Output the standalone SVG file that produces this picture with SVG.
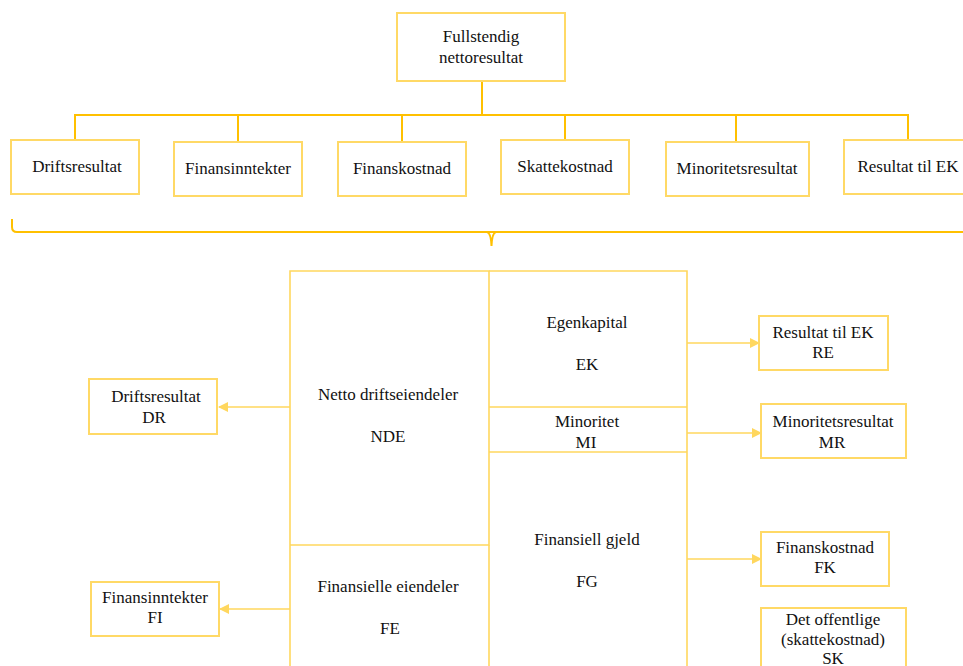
<svg xmlns="http://www.w3.org/2000/svg" width="963" height="666" viewBox="0 0 963 666">
  <defs>
    <style>
      .box { fill: #ffffff; stroke: #FFD966; stroke-width: 2; }
      .cell { fill: none; stroke: #FFD75E; stroke-width: 1.6; }
      .tree { fill: none; stroke: #FFC000; stroke-width: 2; }
      .flow { fill: none; stroke: #FFD75E; stroke-width: 1.6; }
      text { font-family: "Liberation Serif", "Times New Roman", serif; font-size: 17px; fill: #111111; text-anchor: middle; }
    </style>
    <marker id="arr" viewBox="0 0 10 10" refX="9" refY="5" markerWidth="10" markerHeight="10" markerUnits="userSpaceOnUse" orient="auto">
      <path d="M0,0 L10,5 L0,10 z" fill="#FFD75E"/>
    </marker>
  </defs>

  <!-- tree connectors and brace -->
  <g id="connectors">
    <path class="tree" d="M482,81 V115"/>
    <path class="tree" d="M75,140 V115 H908 V140"/>
    <path class="tree" d="M238,115 V142 M402,115 V142 M565,115 V140 M736,115 V142"/>
    <path class="tree" d="M12,219 V227 Q12,232 17,232 H963"/>
    <path class="tree" d="M487,232 Q491,233 491.5,246 Q492,233 496,232"/>
    <!-- flows from the balance sheet -->
    <path class="flow" d="M290,407 H219" marker-end="url(#arr)"/>
    <path class="flow" d="M290,609 H220" marker-end="url(#arr)"/>
    <path class="flow" d="M687,343 H759" marker-end="url(#arr)"/>
    <path class="flow" d="M687,433 H761" marker-end="url(#arr)"/>
    <path class="flow" d="M687,559 H761" marker-end="url(#arr)"/>
  </g>

  <g id="fullstendig">
    <rect class="box" x="397" y="13" width="168" height="68"/>
    <text x="481" y="42">Fullstendig</text>
    <text x="481" y="63">nettoresultat</text>
  </g>

  <g id="t-driftsresultat">
    <rect class="box" x="11" y="140" width="128" height="54"/>
    <text x="77" y="172">Driftsresultat</text>
  </g>
  <g id="t-finansinntekter">
    <rect class="box" x="174" y="142" width="128" height="54"/>
    <text x="238" y="174">Finansinntekter</text>
  </g>
  <g id="t-finanskostnad">
    <rect class="box" x="338" y="142" width="128" height="54"/>
    <text x="402" y="174">Finanskostnad</text>
  </g>
  <g id="t-skattekostnad">
    <rect class="box" x="501" y="140" width="128" height="54"/>
    <text x="565" y="172">Skattekostnad</text>
  </g>
  <g id="t-minoritetsresultat">
    <rect class="box" x="666" y="142" width="143" height="54"/>
    <text x="737" y="174">Minoritetsresultat</text>
  </g>
  <g id="t-resultat-ek">
    <rect class="box" x="844" y="140" width="130" height="54"/>
    <text x="908" y="172">Resultat til EK</text>
  </g>

  <!-- balance sheet -->
  <g id="nde">
    <path class="cell" d="M290,666 V271 H489 V545 H290"/>
    <text x="388" y="400">Netto driftseiendeler</text>
    <text x="388" y="442">NDE</text>
  </g>
  <g id="fe">
    <path class="cell" d="M489,545 V666"/>
    <text x="388" y="592">Finansielle eiendeler</text>
    <text x="390" y="634">FE</text>
  </g>
  <g id="ek">
    <path class="cell" d="M489,271 H687 V666 M489,407 H687"/>
    <text x="587" y="328">Egenkapital</text>
    <text x="587" y="370">EK</text>
  </g>
  <g id="mi">
    <path class="cell" d="M489,452 H687"/>
    <text x="587" y="427">Minoritet</text>
    <text x="586" y="448">MI</text>
  </g>
  <g id="fg">
    <text x="587" y="545">Finansiell gjeld</text>
    <text x="587" y="587">FG</text>
  </g>

  <g id="dr">
    <rect class="box" x="89" y="379" width="128" height="55"/>
    <text x="156" y="402">Driftsresultat</text>
    <text x="154" y="423">DR</text>
  </g>
  <g id="fi">
    <rect class="box" x="91" y="582" width="128" height="54"/>
    <text x="155" y="603">Finansinntekter</text>
    <text x="155" y="623">FI</text>
  </g>
  <g id="re">
    <rect class="box" x="759" y="316" width="129" height="54"/>
    <text x="823" y="338">Resultat til EK</text>
    <text x="823" y="358">RE</text>
  </g>
  <g id="mr">
    <rect class="box" x="761" y="404" width="145" height="54"/>
    <text x="833" y="427">Minoritetsresultat</text>
    <text x="832" y="448">MR</text>
  </g>
  <g id="fk">
    <rect class="box" x="761" y="532" width="128" height="54"/>
    <text x="825" y="553">Finanskostnad</text>
    <text x="825" y="573">FK</text>
  </g>
  <g id="sk">
    <rect class="box" x="761" y="608" width="145" height="70"/>
    <text x="833" y="625">Det offentlige</text>
    <text x="833" y="645">(skattekostnad)</text>
    <text x="833" y="664">SK</text>
  </g>
</svg>
